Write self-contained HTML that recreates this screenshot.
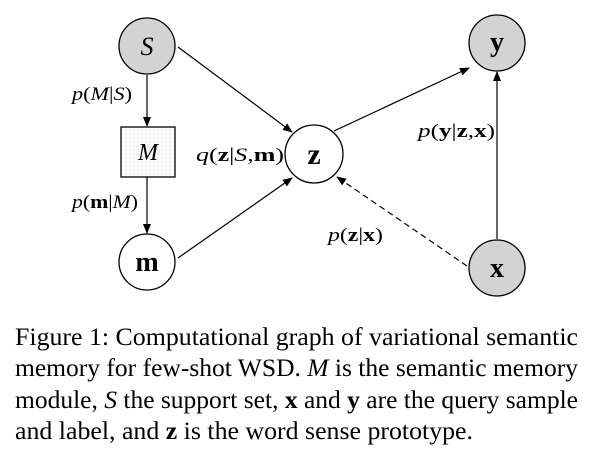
<!DOCTYPE html>
<html><head><meta charset="utf-8"><style>
html,body{margin:0;padding:0;background:#fff;}
svg{display:block;}
.m{font-family:"Liberation Serif",serif;font-size:19px;}
.cap{font-family:"Liberation Serif",serif;font-size:25px;fill:#000;}
</style></head><body>
<svg width="592" height="450" viewBox="0 0 592 450">
<defs>
<marker id="ah" markerWidth="10" markerHeight="8" refX="9" refY="4" orient="auto" markerUnits="userSpaceOnUse">
<path d="M0,0 L10,4 L0,8 z" fill="#000"/></marker>
<pattern id="dots" width="4" height="4" patternUnits="userSpaceOnUse"><rect width="4" height="4" fill="#fafafa"/><circle cx="2" cy="2" r="0.5" fill="#ccc"/></pattern>
</defs>
<g stroke="#000" stroke-width="1.2" fill="none">
<line x1="147" y1="75" x2="147" y2="126" marker-end="url(#ah)"/>
<line x1="147" y1="177" x2="147" y2="233" marker-end="url(#ah)"/>
<line x1="178" y1="47" x2="292" y2="132" marker-end="url(#ah)"/>
<line x1="178" y1="258" x2="292" y2="178" marker-end="url(#ah)"/>
<line x1="334" y1="131" x2="469" y2="68" marker-end="url(#ah)"/>
<line x1="497" y1="239" x2="497" y2="72" marker-end="url(#ah)"/>
<line x1="467" y1="266" x2="337" y2="177" stroke-dasharray="6,4" marker-end="url(#ah)"/>
</g>
<g stroke="#000" stroke-width="1.3">
<circle cx="147" cy="46" r="28" fill="#d3d3d3"/>
<rect x="121" y="127" width="54" height="50" fill="url(#dots)"/>
<circle cx="147" cy="262" r="28" fill="#fff"/>
<circle cx="314" cy="154" r="29" fill="#fff"/>
<circle cx="497" cy="43" r="28" fill="#d3d3d3"/>
<circle cx="497" cy="268" r="28" fill="#d3d3d3"/>
</g>
<g font-family="Liberation Serif, serif" text-anchor="middle" fill="#000">
<text x="147" y="55" font-size="26" font-style="italic">S</text>
<text x="148" y="160" font-size="24" font-style="italic">M</text>
<text x="147" y="271" font-size="28" font-weight="bold">m</text>
<text x="314" y="164" font-size="30" font-weight="bold">z</text>
<text x="497" y="51" font-size="28" font-weight="bold">y</text>
<text x="497" y="277" font-size="28" font-weight="bold">x</text>
</g>
<g class="m" fill="#000">
<text x="72" y="100" textLength="60" lengthAdjust="spacingAndGlyphs"><tspan font-style="italic">p</tspan>(<tspan font-style="italic">M</tspan>|<tspan font-style="italic">S</tspan>)</text>
<text x="72" y="208" textLength="66" lengthAdjust="spacingAndGlyphs"><tspan font-style="italic">p</tspan>(<tspan font-weight="bold">m</tspan>|<tspan font-style="italic">M</tspan>)</text>
<text x="196" y="161" textLength="88" lengthAdjust="spacingAndGlyphs"><tspan font-style="italic">q</tspan>(<tspan font-weight="bold">z</tspan>|<tspan font-style="italic">S</tspan>,<tspan font-weight="bold">m</tspan>)</text>
<text x="418" y="137" textLength="77" lengthAdjust="spacingAndGlyphs"><tspan font-style="italic">p</tspan>(<tspan font-weight="bold">y</tspan>|<tspan font-weight="bold">z</tspan>,<tspan font-weight="bold">x</tspan>)</text>
<text x="328" y="241" textLength="55" lengthAdjust="spacingAndGlyphs"><tspan font-style="italic">p</tspan>(<tspan font-weight="bold">z</tspan>|<tspan font-weight="bold">x</tspan>)</text>
</g>
<g class="cap">
<text x="15" y="345" textLength="563" lengthAdjust="spacingAndGlyphs">Figure 1: Computational graph of variational semantic</text>
<text x="15" y="376" textLength="563" lengthAdjust="spacingAndGlyphs">memory for few-shot WSD. <tspan font-style="italic">M</tspan> is the semantic memory</text>
<text x="15" y="408" textLength="563" lengthAdjust="spacingAndGlyphs">module, <tspan font-style="italic">S</tspan> the support set, <tspan font-weight="bold">x</tspan> and <tspan font-weight="bold">y</tspan> are the query sample</text>
<text x="15" y="439" textLength="458" lengthAdjust="spacingAndGlyphs">and label, and <tspan font-weight="bold">z</tspan> is the word sense prototype.</text>
</g>
</svg>
</body></html>
